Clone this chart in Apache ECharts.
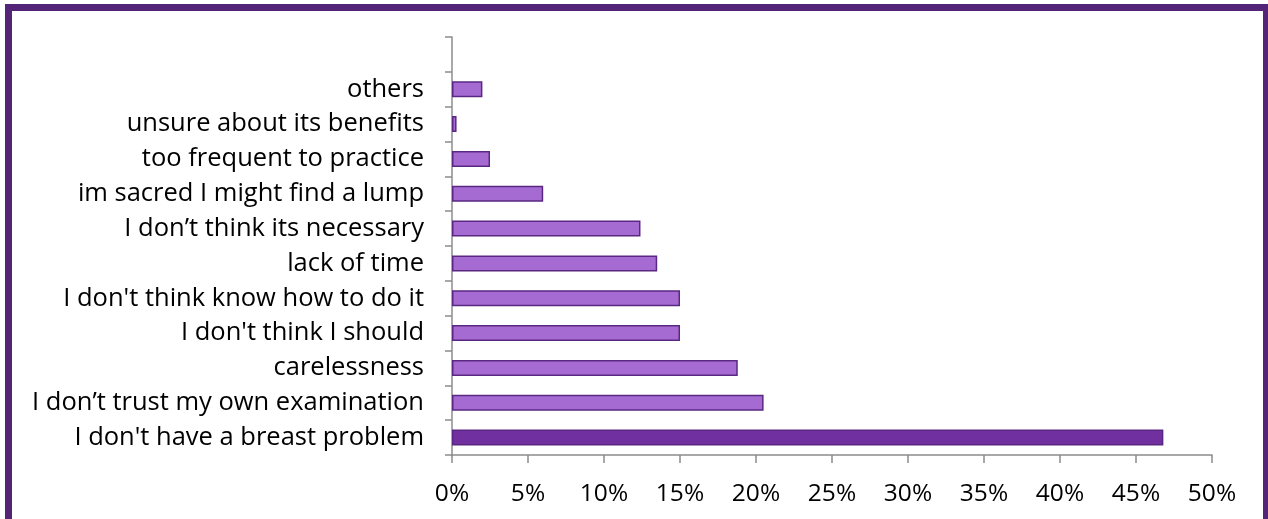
<!DOCTYPE html>
<html>
<head>
<meta charset="utf-8">
<script src="https://cdn.jsdelivr.net/npm/echarts@6/dist/echarts.min.js"></script>
<style>
    html, body {margin: 0; padding: 0; overflow: hidden; background: #fff;}
    #chart {position: absolute; left: 0; top: 0; width: 1268px; height: 519px;}
    #frame {position: absolute; left: 5px; top: 4px; width: 1265px; height: 540px;
        border: 7px solid #532477; box-sizing: border-box; pointer-events: none;}
</style>
</head>
<body>
<div id="chart"></div>
<div id="frame"></div>
<script>
// 原因分类 (从下到上)
var reasons = ["I don't have a breast problem", "I don’t trust my own examination", "carelessness",
    "I don't think I should", "I don't think know how to do it", "lack of time",
    "I don’t think its necessary", "im sacred I might find a lump", "too frequent to practice",
    "unsure about its benefits", "others", ""];
var percents = [46.8, 20.5, 18.8, 15, 15, 13.5, 12.4, 6, 2.5, 0.3, 2, null];
var xTicks = [0, 5, 10, 15, 20, 25, 30, 35, 40, 45, 50];

(function () {
    var chart = echarts.init(document.getElementById("chart"));

    var barData = [];
    for (var i = 0; i < percents.length; i++) {
        if (percents[i] === null) {
            barData.push('-');
        } else if (i === 0) {
            barData.push({value: percents[i], itemStyle: {color: '#7030A0'}});
        } else {
            barData.push(percents[i]);
        }
    }

    var option = {
        animation: false,
        grid: {left: 452, right: 56, top: 37, bottom: 64},
        xAxis: {
            type: 'value',
            min: xTicks[0],
            max: xTicks[xTicks.length - 1],
            interval: 5,
            splitLine: {show: false},
            axisLine: {show: true, lineStyle: {color: '#8c8c8c', width: 1.5}},
            axisTick: {show: true, length: 8, lineStyle: {color: '#8c8c8c', width: 1.5}},
            axisLabel: {
                formatter: '{value}%', margin: 27,
                fontFamily: 'Open Sans', fontSize: 24.5, color: '#000'
            }
        },
        yAxis: {
            type: 'category',
            data: reasons,
            axisLine: {lineStyle: {color: '#8c8c8c', width: 1.5}},
            axisTick: {show: true, length: 7, lineStyle: {color: '#8c8c8c', width: 1.5}},
            axisLabel: {margin: 28, fontFamily: 'Open Sans', fontSize: 25.5, color: '#000'}
        },
        series: [
            {
                name: '比例',
                type: 'bar',
                barWidth: 16,
                data: barData,
                itemStyle: {color: '#A66BD3', borderColor: '#5A2882', borderWidth: 1.5}
            }
        ]
    };

    chart.setOption(option);
})();
</script>
</body>
</html>
